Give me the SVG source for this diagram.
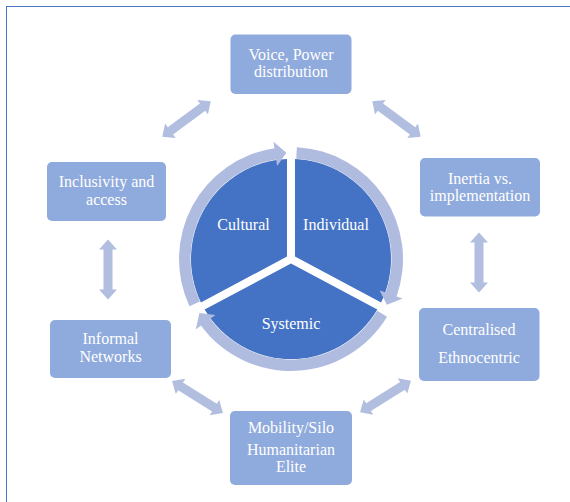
<svg xmlns="http://www.w3.org/2000/svg" xmlns:xlink="http://www.w3.org/1999/xlink" width="570" height="502" viewBox="0 0 570 502">
  <defs>
    <style>
      .frame { fill: #ffffff; stroke: #4a76c6; stroke-width: 1; }
      .box { fill: #8faadc; }
      .wedge { fill: #4472c4; }
      .ring { fill: #afbcdf; }
      .link { fill: #b1bee0; }
      .lbl { font-family: 'Liberation Serif', 'DejaVu Serif', serif; font-size: 16px; fill: #ffffff; text-anchor: middle; }
    </style>
    <!-- double-headed block arrow, 60 long, centred on the origin, pointing along x -->
    <path id="dblArrow" d="M-30,0 L-20,-9 L-20,-4.5 L20,-4.5 L20,-9 L30,0 L20,9 L20,4.5 L-20,4.5 L-20,9 Z"/>
  </defs>

  <rect class="frame" x="6.5" y="6.5" width="620" height="560"/>

  <!-- central segmented cycle -->
  <g id="cultural">
    <path class="wedge" d="M287,256.6 L200.9,302.38 A100,100 0 0 1 287,159.08 Z"/>
    <text class="lbl" x="243.5" y="229.5">Cultural</text>
  </g>
  <g id="individual">
    <path class="wedge" d="M295,256.6 L295,159.08 A100,100 0 0 1 381.1,302.38 Z"/>
    <text class="lbl" x="336" y="229.5">Individual</text>
  </g>
  <g id="systemic">
    <path class="wedge" d="M291,263.53 L377.35,309.44 A100,100 0 0 1 204.65,309.44 Z"/>
    <text class="lbl" x="291" y="328.5">Systemic</text>
  </g>

  <!-- circular arrows around the cycle -->
  <g id="cycle-arrows">
    <path class="ring" d="M189.49,306.33 A112,112 0 0 1 274.45,148.23 L273.49,141.8 L286.37,152.85 L277.11,166.03 L276.15,159.61 A100.5,100.5 0 0 0 199.92,301.47 Z"/>
    <path class="ring" d="M296.86,147.15 A112,112 0 0 1 396.58,296.39 L402.7,298.56 L386.9,304.74 L379.61,290.38 L385.74,292.55 A100.5,100.5 0 0 0 296.26,158.64 Z"/>
    <path class="ring" d="M387,316.68 A112,112 0 0 1 200.97,325.62 L195.74,329.49 L199.45,312.93 L215.44,314.91 L210.21,318.78 A100.5,100.5 0 0 0 377.15,310.76 Z"/>
  </g>

  <!-- outer factor boxes -->
  <g id="voice">
    <rect class="box" x="230.5" y="34.5" width="121" height="59.5" rx="5"/>
    <text class="lbl" x="291" y="60">Voice, Power</text>
    <text class="lbl" x="291" y="77">distribution</text>
  </g>
  <g id="inertia">
    <rect class="box" x="420" y="158" width="120" height="58.5" rx="5"/>
    <text class="lbl" x="480" y="184">Inertia vs.</text>
    <text class="lbl" x="480" y="201">implementation</text>
  </g>
  <g id="centralised">
    <rect class="box" x="419" y="308" width="120.5" height="73" rx="5"/>
    <text class="lbl" x="479" y="335">Centralised</text>
    <text class="lbl" x="479" y="362.5">Ethnocentric</text>
  </g>
  <g id="mobility">
    <rect class="box" x="230" y="411" width="122" height="74" rx="5"/>
    <text class="lbl" x="291" y="433">Mobility/Silo</text>
    <text class="lbl" x="291" y="455">Humanitarian</text>
    <text class="lbl" x="291" y="472">Elite</text>
  </g>
  <g id="informal">
    <rect class="box" x="50" y="320" width="121" height="58" rx="5"/>
    <text class="lbl" x="110.5" y="344">Informal</text>
    <text class="lbl" x="110.5" y="361.5">Networks</text>
  </g>
  <g id="inclusivity">
    <rect class="box" x="47" y="162" width="119" height="59" rx="5"/>
    <text class="lbl" x="106.5" y="186.5">Inclusivity and</text>
    <text class="lbl" x="106.5" y="205">access</text>
  </g>

  <!-- two-way links between neighbouring boxes -->
  <g id="connectors">
    <use class="link" xlink:href="#dblArrow" href="#dblArrow" transform="translate(186.5,119) rotate(-36.3)"/>
    <use class="link" xlink:href="#dblArrow" href="#dblArrow" transform="translate(396.5,119) rotate(36.3)"/>
    <use class="link" xlink:href="#dblArrow" href="#dblArrow" transform="translate(479,262.5) rotate(90)"/>
    <use class="link" xlink:href="#dblArrow" href="#dblArrow" transform="translate(385.5,396.5) rotate(-31.9)"/>
    <use class="link" xlink:href="#dblArrow" href="#dblArrow" transform="translate(197.5,397) rotate(32.1)"/>
    <use class="link" xlink:href="#dblArrow" href="#dblArrow" transform="translate(108,269.5) rotate(90)"/>
  </g>
</svg>
